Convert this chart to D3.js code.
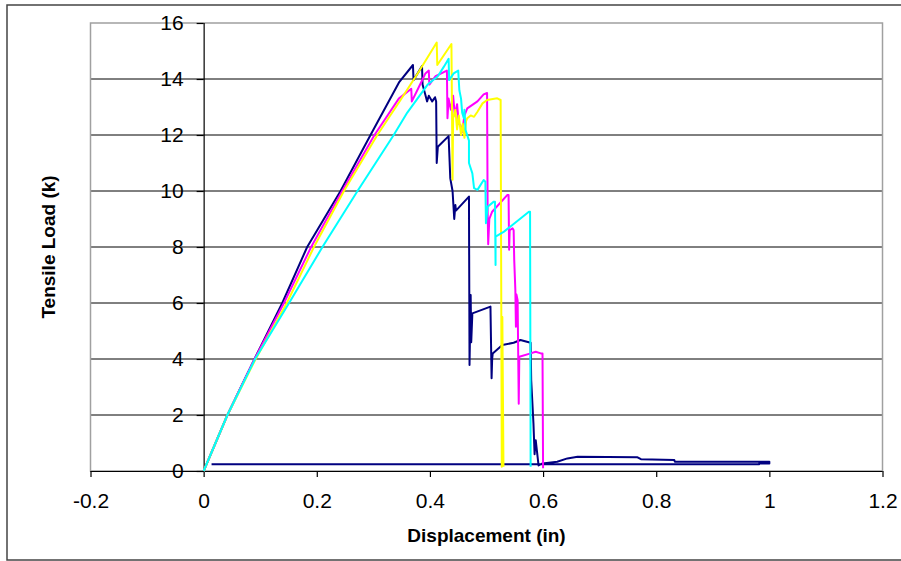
<!DOCTYPE html>
<html>
<head>
<meta charset="utf-8">
<title>Tensile Load vs Displacement</title>
<script src="https://cdn.jsdelivr.net/npm/d3@7/dist/d3.min.js"></script>
<style>
	body { margin: 0; background: #fff; }
	text { font-family: "Liberation Sans", Arial, sans-serif; }
</style>
</head>
<body>
<div id="chart"></div>
<script>

// Axis ticks
var xTicks = [-0.2, 0, 0.2, 0.4, 0.6, 0.8, 1, 1.2],
    yTicks = [0, 2, 4, 6, 8, 10, 12, 14, 16];

// Specimen curves, [displacement (in), load (k)]
var navy = [[0,0],[0.042,2],[0.090,4],[0.139,6],[0.183,8],[0.242,10],[0.295,12],[0.346,13.9],[0.370,14.5],
	[0.371,13.96],[0.386,14.46],[0.387,13.8],[0.392,13.43],[0.395,13.2],[0.398,13.4],[0.404,13.2],[0.409,13.35],
	[0.411,13.2],[0.412,11.0],[0.414,11.58],[0.433,11.96],[0.436,10.45],[0.440,10.0],[0.443,9.0],[0.445,9.5],
	[0.446,9.3],[0.469,9.8],[0.470,3.79],[0.472,6.29],[0.473,4.6],[0.475,5.63],[0.507,5.87],[0.509,3.31],
	[0.510,4.0],[0.511,4.2],[0.528,4.5],[0.548,4.58],[0.560,4.68],[0.578,4.58],[0.579,3.25],[0.583,1.7],
	[0.585,0.6],[0.587,1.1],[0.592,0.2],[0.599,0.27],[0.625,0.33],[0.643,0.45],[0.661,0.51],[0.767,0.49],
	[0.773,0.42],[0.832,0.39],[0.833,0.33],[1.0,0.33],[1.0,0.27],[0.982,0.27],[0.982,0.24],[0.014,0.24]];

var magenta = [[0,0],[0.042,2],[0.090,4],[0.142,6],[0.190,8],[0.245,10],[0.302,12],[0.345,13.3],[0.367,13.65],
	[0.368,13.2],[0.385,13.9],[0.392,14.2],[0.398,14.3],[0.399,13.8],[0.410,14.1],[0.420,14.2],[0.430,14.3],
	[0.431,12.6],[0.433,13.3],[0.437,12.9],[0.441,13.4],[0.444,12.7],[0.448,13.1],[0.451,12.4],[0.454,12.35],
	[0.457,12.1],[0.461,12.7],[0.466,12.95],[0.484,13.2],[0.495,13.45],[0.501,13.5],[0.502,9.3],[0.503,8.1],
	[0.505,9.0],[0.510,9.26],[0.537,9.86],[0.539,9.86],[0.540,7.9],[0.541,8.6],[0.546,8.67],[0.548,8.6],
	[0.549,7.54],[0.551,6.46],[0.552,5.15],[0.553,6.3],[0.555,6.1],[0.557,2.4],[0.558,4.08],[0.578,4.2],
	[0.587,4.26],[0.596,4.2],[0.599,4.2],[0.600,0.1]];

var yellow = [[0,0],[0.042,2],[0.092,4],[0.147,6],[0.195,8],[0.248,10],[0.307,12],[0.348,13.25],[0.380,14.25],
	[0.412,15.3],[0.413,14.5],[0.438,15.25],[0.439,12.9],[0.440,10.4],[0.441,12.6],[0.445,12.9],[0.448,12.2],
	[0.451,12.7],[0.455,12.0],[0.458,12.4],[0.461,11.9],[0.464,12.5],[0.466,12.6],[0.472,12.7],[0.478,12.65],
	[0.484,12.83],[0.493,13.13],[0.501,13.25],[0.519,13.31],[0.525,13.25],[0.527,0.15],[0.528,5.5],[0.530,0.15]];

var cyan = [[0,0],[0.042,2],[0.091,4],[0.151,6],[0.210,8],[0.272,10],[0.336,12],[0.360,12.8],[0.396,13.8],
	[0.414,14.1],[0.425,14.45],[0.433,14.72],[0.434,13.96],[0.442,14.2],[0.450,14.3],[0.452,13.6],[0.455,13.3],
	[0.457,12.8],[0.460,12.6],[0.461,12.9],[0.463,12.18],[0.469,11.8],[0.469,11.0],[0.475,10.63],[0.478,10.1],
	[0.484,10.04],[0.495,10.39],[0.498,10.33],[0.499,8.85],[0.502,9.44],[0.513,9.62],[0.515,9.62],[0.516,7.36],
	[0.516,8.37],[0.531,8.55],[0.575,9.26],[0.577,9.26],[0.578,0.15]];

var series = [
	{ data: navy, color: '#000080' },
	{ data: magenta, color: '#ff00ff' },
	{ data: yellow, color: '#ffff00' },
	{ data: cyan, color: '#00ffff' }
];

var svg = d3.select("#chart").append("svg").attr("width", 901).attr("height", 561);

// Outer chart border
svg.append("rect")
	.attr("x", 7).attr("y", 5).attr("width", 905).attr("height", 555)
	.attr("fill", "#fff").attr("stroke", "#444").attr("stroke-width", 1.5);

var x = d3.scaleLinear().domain([-0.2, 1.2]).range([90.5, 882.5]),
    y = d3.scaleLinear().domain([0, 16]).range([471, 23]);

// Gridlines
svg.append("g").selectAll("line")
	.data(yTicks.filter(function(t){ return t > 0 && t < 16; }))
	.enter().append("line")
	.attr("x1", x(-0.2)).attr("x2", x(1.2))
	.attr("y1", function(d){ return y(d); }).attr("y2", function(d){ return y(d); })
	.attr("stroke", "#000").attr("stroke-width", 1);

// Plot area border
svg.append("rect")
	.attr("x", x(-0.2)).attr("y", y(16)).attr("width", x(1.2) - x(-0.2)).attr("height", y(0) - y(16))
	.attr("fill", "none").attr("stroke", "#a0a0a0").attr("stroke-width", 1.5);

// Axes
var xAxis = d3.axisBottom(x).tickValues(xTicks).tickSize(6).tickPadding(16)
	.tickFormat(function(d){ return d3.format("")(+d.toFixed(1)); });
var yAxis = d3.axisLeft(y).tickValues(yTicks).tickSize(7).tickPadding(13);

var gx = svg.append("g").attr("transform", "translate(0," + y(0) + ")").call(xAxis);
var gy = svg.append("g").attr("transform", "translate(" + x(0) + ",0)").call(yAxis);

[gx, gy].forEach(function(g){
	g.select(".domain").attr("stroke", "#000").attr("stroke-width", 1.2);
	g.selectAll(".tick line").attr("stroke", "#000").attr("stroke-width", 1.2);
	g.selectAll(".tick text").attr("font-size", 21).attr("fill", "#000")
		.attr("font-family", "'Liberation Sans', Arial, sans-serif");
});
gx.select(".domain").attr("d", "M" + x(-0.2) + ",0.5H" + x(1.2));
gy.select(".domain").attr("d", "M0.5," + y(16) + "V" + y(0));
gx.selectAll(".tick text").text(function(d){ return d === 0 ? "0" : (d === 1 ? "1" : String(+d.toFixed(1))); });

// Curves
var line = d3.line()
	.x(function(d){ return x(d[0]); })
	.y(function(d){ return y(d[1]); });

svg.append("g").selectAll("path")
	.data(series)
	.enter().append("path")
	.attr("d", function(s){ return line(s.data); })
	.attr("fill", "none")
	.attr("stroke", function(s){ return s.color; })
	.attr("stroke-width", 2)
	.attr("stroke-linejoin", "round");

// Axis titles
svg.append("text")
	.attr("x", (x(-0.2) + x(1.2)) / 2).attr("y", 542)
	.attr("text-anchor", "middle").attr("font-size", 19).attr("font-weight", "bold")
	.text("Displacement (in)");

svg.append("text")
	.attr("transform", "translate(55," + (y(0) + y(16)) / 2 + ") rotate(-90)")
	.attr("text-anchor", "middle").attr("font-size", 19).attr("font-weight", "bold")
	.text("Tensile Load (k)");

</script>
</body>
</html>
